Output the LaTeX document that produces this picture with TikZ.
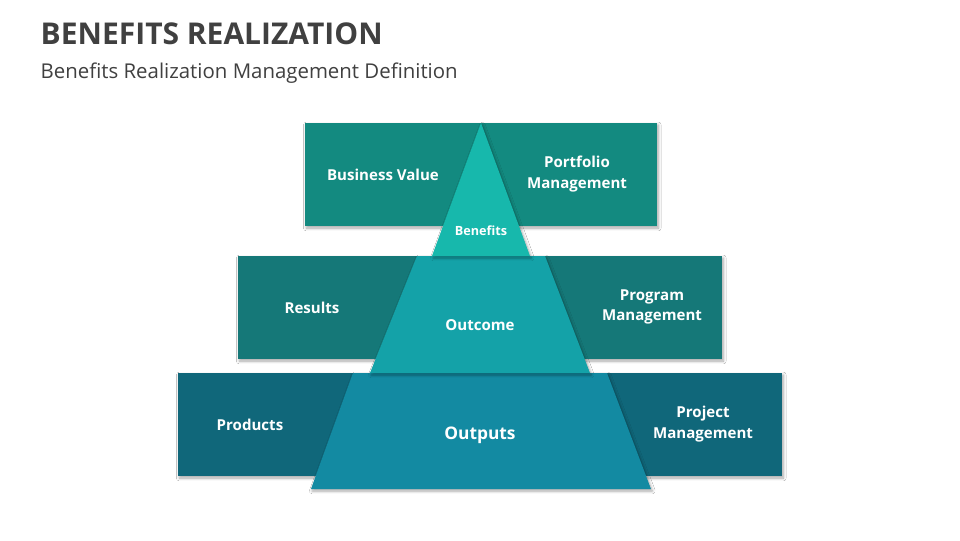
\documentclass[tikz,border=0pt]{standalone}
\usepackage{fontspec}
\setmainfont{Open Sans}
\usetikzlibrary{shadows.blur}
\definecolor{rA}{HTML}{138A80}
\definecolor{rB}{HTML}{157878}
\definecolor{rC}{HTML}{10677A}
\definecolor{tA}{HTML}{17B8AC}
\definecolor{tB}{HTML}{14A2A8}
\definecolor{tC}{HTML}{138AA2}
\definecolor{ttl}{HTML}{404040}
\tikzset{lbl/.style={text=white,font=\fontsize{11.3}{15.5}\selectfont\bfseries,align=center},
 shd/.style={blur shadow={shadow blur steps=6,shadow xshift=1pt,shadow yshift=-1.5pt,shadow opacity=35}}}
\begin{document}
\begin{tikzpicture}[x=0.75pt,y=-0.75pt]
\useasboundingbox (0,0) rectangle (960,540);
\fill[white] (0,0) rectangle (960,540);
\node[anchor=west,text=ttl,font=\fontsize{22.5}{26}\selectfont\bfseries] (title) at (36,34) {BENEFITS REALIZATION};
\node[anchor=west,text=ttl,font=\fontsize{15.3}{18}\selectfont] (sub) at (36,73) {Benefits Realization Management Definition};
\fill[rC,shd] (178,373) rectangle (782,476);
\fill[rB,shd] (238,256) rectangle (722,359);
\fill[rA,shd] (305,123) rectangle (657,226);
\fill[tC,shd] (353,373) -- (607,373) -- (651,489) -- (311,489) -- cycle;
\fill[tB,shd] (417,256) -- (545,256) -- (590,373) -- (370,373) -- cycle;
\fill[tA,shd] (481,123) -- (530,256) -- (432,256) -- cycle;
\node[lbl] (bv) at (383,175) {Business Value};
\node[lbl] (pm) at (577,174) {Portfolio\\Management};
\node[lbl,font=\fontsize{9.5}{11}\selectfont\bfseries] (ben) at (481,231) {Benefits};
\node[lbl] (res) at (312,308) {Results};
\node[lbl] (out) at (480,325) {Outcome};
\node[lbl] (prg) at (652,307) {Program\\Management};
\node[lbl] (prd) at (250,425) {Products};
\node[lbl,font=\fontsize{13}{15}\selectfont\bfseries] (opt) at (480,435) {Outputs};
\node[lbl] (prj) at (703,424) {Project\\Management};
\end{tikzpicture}
\end{document}
